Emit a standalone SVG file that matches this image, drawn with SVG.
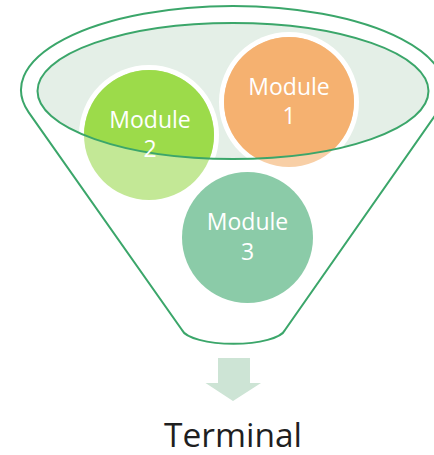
<svg xmlns="http://www.w3.org/2000/svg" width="434" height="455" viewBox="0 0 434 455">
  <defs>
    <style>
      .line { fill: none; stroke: #3BA66A; stroke-width: 2; }
      .lbl { font-family: "Open Sans", "Noto Sans", sans-serif; font-size: 23px; fill: #FFFFFF; text-anchor: middle; }
      .ring { fill: #FFFFFF; }
    </style>
    <clipPath id="inner">
      <ellipse cx="233" cy="91" rx="195.5" ry="68"/>
    </clipPath>
  </defs>
  <rect width="434" height="455" fill="#FFFFFF"/>
  <g id="funnel">
    <path class="line" d="M 28.7 112.4 A 212 84 0 1 1 437.3 112.4 L 285 330 A 52 16 0 0 1 182 330 Z"/>
    <ellipse cx="233" cy="91" rx="195.5" ry="68" fill="#E4EFE7"/>
  </g>
  <g id="module3">
    <circle cx="247.5" cy="237.5" r="65.5" fill="#8BCBA8"/>
    <text class="lbl" x="247.5" y="230">Module</text>
    <text class="lbl" x="247.5" y="260">3</text>
  </g>
  <g id="module2">
    <circle cx="149" cy="135" r="70" class="ring" clip-path="url(#inner)"/>
    <circle cx="149" cy="135" r="65" fill="#C3E896"/>
    <circle cx="149" cy="135" r="65" fill="#9CDB4A" clip-path="url(#inner)"/>
  </g>
  <g id="module1">
    <circle cx="289" cy="102" r="70" class="ring" clip-path="url(#inner)"/>
    <circle cx="289" cy="102" r="65" fill="#F8CFA6"/>
    <circle cx="289" cy="102" r="65" fill="#F5B170" clip-path="url(#inner)"/>
  </g>
  <g id="rim">
    <ellipse class="line" cx="233" cy="91" rx="195.5" ry="68"/>
  </g>
  <g id="labels">
    <text class="lbl" x="150" y="128">Module</text>
    <text class="lbl" x="150" y="157">2</text>
    <text class="lbl" x="289" y="95">Module</text>
    <text class="lbl" x="289" y="124">1</text>
  </g>
  <g id="connectors">
    <path d="M 218 358 L 250 358 L 250 383 L 261 383 L 233 401 L 205.5 383 L 218 383 Z" fill="#CDE4D5"/>
  </g>
  <g id="terminal">
    <text x="233" y="447" font-family="Open Sans, Noto Sans, sans-serif" font-size="32" fill="#1F1F1F" text-anchor="middle" textLength="138" lengthAdjust="spacingAndGlyphs">Terminal</text>
  </g>
</svg>
